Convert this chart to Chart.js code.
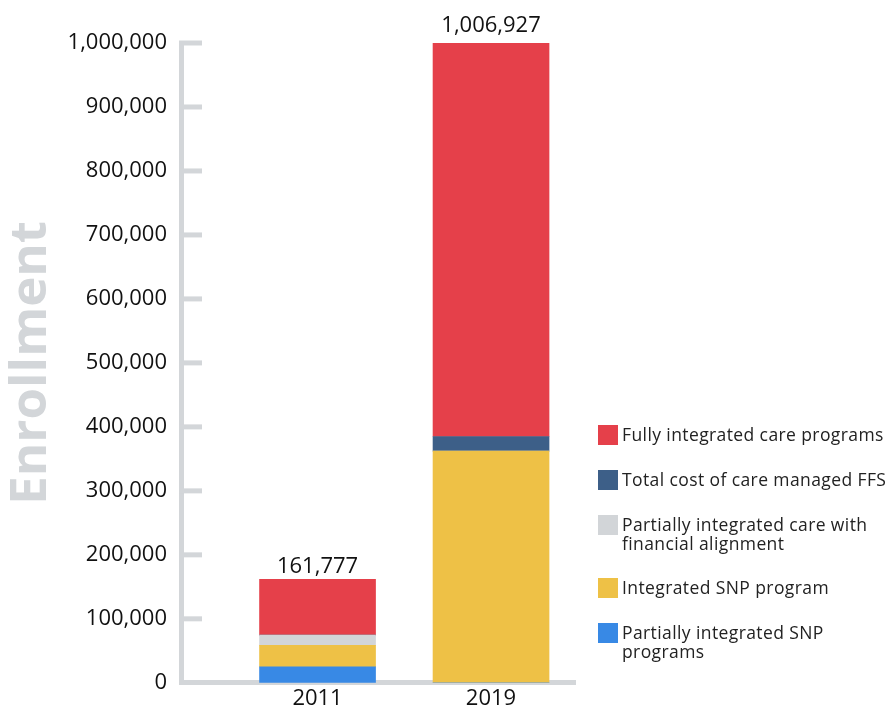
<!DOCTYPE html>
<html>
<head>
<meta charset="utf-8">
<script src="https://cdn.jsdelivr.net/npm/chart.js@4.4.1/dist/chart.umd.min.js"></script>
<style>
  html, body { margin: 0; padding: 0; background: #fff; }
  #wrap { position: relative; width: 894px; height: 710px; }
  #legend { position: absolute; left: 598px; top: 425px; font-family: "Open Sans", sans-serif; font-size: 17.5px; letter-spacing: 0.4px; line-height: 19px; color: #222; }
  .item { display: flex; align-items: flex-start; margin-bottom: 25px; }
  .box { width: 20px; height: 20px; margin-right: 4px; flex: none; }
  .txt { white-space: pre; }
</style>
</head>
<body>
<div id="wrap">
  <canvas id="chart" width="894" height="710"></canvas>
  <div id="legend"></div>
</div>
<script>
// data, bottom of the stack first
var years = ['2011', '2019'];
var partialSnp = [25000, 0];
var integratedSnp = [33500, 362000];
var partialFinancial = [16000, 0];
var totalCostFfs = [0, 23000];
var fullyIntegrated = [87277, 621927];
var yTicks = [0, 100000, 200000, 300000, 400000, 500000, 600000, 700000, 800000, 900000, 1000000];

var seriesNames = [
    'Partially integrated SNP\nprograms',
    'Integrated SNP program',
    'Partially integrated care with\nfinancial alignment',
    'Total cost of care managed FFS',
    'Fully integrated care programs'
];
var seriesValues = [partialSnp, integratedSnp, partialFinancial, totalCostFfs, fullyIntegrated];
var seriesColors = ['#3889e5', '#eec146', '#d2d5d8', '#3d5f88', '#e5404a'];

var totals = years.map(function(y, i) {
    var s = 0;
    seriesValues.forEach(function(v) { s += v[i]; });
    return s;
});

var axisGray = '#d3d6d9';
var font = '"Open Sans", sans-serif';

var datasets = seriesValues.map(function(vals, k) {
    return {
        label: seriesNames[k],
        data: vals.map(function(v, i) { return { x: i, y: v }; }),
        backgroundColor: seriesColors[k],
        borderWidth: 0,
        stack: 'all',
        barThickness: 116
    };
});

// short tick marks pointing into the plot + totals above bars
var extras = {
    id: 'extras',
    beforeDatasetsDraw: function(chart) {
        var ctx = chart.ctx;
        var yScale = chart.scales.y;
        var left = chart.chartArea.left;
        ctx.save();
        ctx.strokeStyle = axisGray;
        ctx.lineWidth = 5;
        yScale.ticks.forEach(function(t) {
            if (t.value === 0) return;
            var py = yScale.getPixelForValue(t.value);
            ctx.beginPath();
            ctx.moveTo(left - 2, py);
            ctx.lineTo(left + 21, py);
            ctx.stroke();
        });
        ctx.restore();
    },
    afterDatasetsDraw: function(chart) {
        var ctx = chart.ctx;
        var yScale = chart.scales.y;
        var meta = chart.getDatasetMeta(0);
        ctx.save();
        ctx.fillStyle = '#111';
        ctx.font = '22px ' + font;
        ctx.textAlign = 'center';
        ctx.textBaseline = 'bottom';
        totals.forEach(function(t, i) {
            var px = meta.data[i].x;
            var py = yScale.getPixelForValue(t);
            ctx.fillText(t.toLocaleString('en-US'), px, py - 2);
        });
        ctx.restore();
    }
};

var ctx = document.getElementById('chart').getContext('2d');
var myChart = new Chart(ctx, {
    type: 'bar',
    data: { datasets: datasets },
    options: {
        responsive: false,
        animation: false,
        layout: { padding: { top: 43, right: 319, bottom: 0, left: 0 } },
        plugins: {
            legend: { display: false },
            tooltip: { enabled: false }
        },
        scales: {
            x: {
                type: 'linear',
                offset: false,
                min: -0.787,
                max: 1.484,
                grid: { display: false, drawTicks: false, offset: false },
                border: { display: true, color: axisGray, width: 5 },
                ticks: {
                    stepSize: 1,
                    includeBounds: false,
                    padding: 5,
                    color: '#111',
                    font: { family: font, size: 22, lineHeight: 1 },
                    callback: function(v) { return years[v] !== undefined ? years[v] : ''; }
                },
                afterFit: function(scale) { scale.height = 24; }
            },
            y: {
                stacked: true,
                min: 0,
                max: 1000000,
                grid: { display: false, drawTicks: false },
                border: { display: true, color: axisGray, width: 5 },
                afterBuildTicks: function(scale) {
                    scale.ticks = yTicks.map(function(v) { return { value: v }; });
                },
                ticks: {
                    padding: 14,
                    color: '#111',
                    font: { family: font, size: 22 },
                    callback: function(v) { return v.toLocaleString('en-US'); }
                },
                title: {
                    display: true,
                    text: 'Enrollment',
                    color: axisGray,
                    padding: { top: 1, bottom: 0 },
                    font: { family: font, size: 51, weight: 'bold' }
                },
                afterFit: function(scale) { scale.width = 181; }
            }
        }
    },
    plugins: [extras]
});

// legend, top of the stack first
var legend = document.getElementById('legend');
for (var k = seriesNames.length - 1; k >= 0; k--) {
    var item = document.createElement('div');
    item.className = 'item';
    var box = document.createElement('div');
    box.className = 'box';
    box.style.background = seriesColors[k];
    var txt = document.createElement('div');
    txt.className = 'txt';
    txt.textContent = seriesNames[k];
    item.appendChild(box);
    item.appendChild(txt);
    legend.appendChild(item);
}
</script>
</body>
</html>
